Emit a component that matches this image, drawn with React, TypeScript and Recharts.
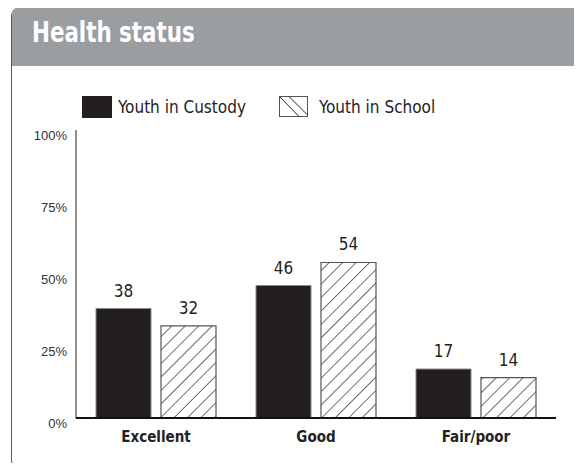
import { BarChart, Bar, XAxis, YAxis, Legend, LabelList } from 'recharts';

const categories = ['Excellent', 'Good', 'Fair/poor'];
const custodyValues = [38, 46, 17];
const schoolValues = [32, 54, 14];
const yTicks = [0, 25, 50, 75, 100];

const data = categories.map((name, i) => ({
  name,
  custody: custodyValues[i],
  school: schoolValues[i],
}));

const FONT = '"DejaVu Sans Condensed", "Liberation Sans Narrow", sans-serif';

function YTick(props: any) {
  const { x, y, payload } = props;
  return (
    <text x={x} y={y + 5} textAnchor="end" dominantBaseline="central" fontFamily='"Liberation Sans", Arial, sans-serif' fontSize={13} fill="#333">
      {payload.value}%
    </text>
  );
}

function XTick(props: any) {
  const { x, y, payload } = props;
  return (
    <text x={x} y={y} textAnchor="middle" dominantBaseline="central" fontFamily={FONT} fontSize={15} fontWeight="bold" fill="#222">
      {payload.value}
    </text>
  );
}

function LegendBox() {
  return (
    <div style={{ display: 'flex', alignItems: 'center', fontFamily: FONT, fontSize: 17, color: '#222' }}>
      <svg width={30} height={22} style={{ marginRight: 6 }}>
        <rect x={0} y={0} width={30} height={22} fill="#231f20" />
      </svg>
      <span style={{ marginRight: 33 }}>Youth in Custody</span>
      <svg width={30} height={22} style={{ marginRight: 10 }}>
        <rect x={0.5} y={0.5} width={28} height={20} fill="#fff" stroke="#555" />
        <line x1={0.5} y1={0.5} x2={20} y2={20.5} stroke="#222" />
        <line x1={10} y1={0.5} x2={28.5} y2={19} stroke="#222" />
      </svg>
      <span>Youth in School</span>
    </div>
  );
}

export default function App() {
  return (
    <div style={{ position: 'relative', width: 582, height: 471, margin: -8, overflow: 'hidden', background: '#fff' }}>
      <div
        style={{
          position: 'absolute',
          left: 11,
          top: 7,
          width: 580,
          height: 460,
          border: '1.5px solid #555',
          borderRadius: '9px 9px 0 9px',
          overflow: 'hidden',
        }}
      >
        <div style={{ height: 58, background: '#9b9ea1', color: '#fff', fontFamily: FONT, fontWeight: 'bold', fontSize: 29, lineHeight: '48px', paddingLeft: 20 }}>
          <span style={{ display: 'inline-block', transform: 'scaleX(0.82)', transformOrigin: 'left center' }}>Health status</span>
        </div>
      </div>
      <div style={{ position: 'absolute', left: 0, top: 0 }}>
        <BarChart
          width={582}
          height={471}
          data={data}
          margin={{ top: 130, right: 26, bottom: 23, left: 16 }}
          barSize={55}
          barGap={10}
        >
          <defs>
            <pattern id="hatch" width={9.5} height={9.5} patternUnits="userSpaceOnUse" patternTransform="rotate(45)">
              <rect width={9.5} height={9.5} fill="#fff" />
              <line x1={0} y1={0} x2={0} y2={9.5} stroke="#222" strokeWidth={1.3} />
            </pattern>
          </defs>
          <Legend
            layout="horizontal"
            verticalAlign="middle"
            align="center"
            content={() => <LegendBox />}
            wrapperStyle={{ top: 96, left: 82, width: 'auto' }}
          />
          <YAxis
            width={60}
            domain={[0, 100]}
            ticks={yTicks}
            interval={0}
            tickLine={false}
            tickSize={0}
            tickMargin={9}
            axisLine={{ stroke: '#444', strokeWidth: 1.2 }}
            tick={<YTick />}
          />
          <XAxis
            dataKey="name"
            height={30}
            tickLine={false}
            tickSize={0}
            tickMargin={19}
            axisLine={{ stroke: '#111', strokeWidth: 2 }}
            tick={<XTick />}
          />
          <Bar dataKey="custody" fill="#231f20" stroke="#888" strokeWidth={1} isAnimationActive={false}>
            <LabelList dataKey="custody" position="top" offset={12} fontFamily={FONT} fontSize={17} fill="#222" />
          </Bar>
          <Bar dataKey="school" fill="url(#hatch)" stroke="#555" strokeWidth={1.2} isAnimationActive={false}>
            <LabelList dataKey="school" position="top" offset={12} fontFamily={FONT} fontSize={17} fill="#222" />
          </Bar>
        </BarChart>
      </div>
    </div>
  );
}
